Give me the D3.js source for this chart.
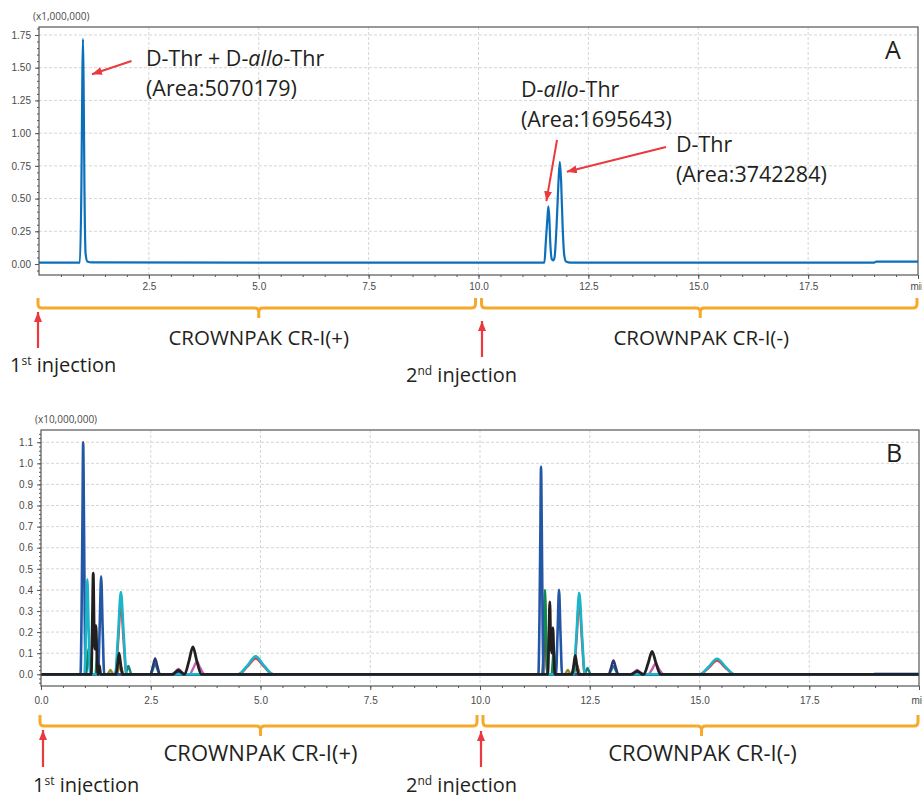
<!DOCTYPE html>
<html lang="en">
<head>
<meta charset="utf-8">
<title>CROWNPAK chromatograms</title>
<script src="https://d3js.org/d3.v7.min.js"></script>
<style>
    body, html { margin: 0; padding: 0; background: #fff; overflow: hidden; }
    svg { font-family: "Open Sans", "Noto Sans", sans-serif; }
    .tick text { fill: #4a4a4a; font-size: 10px; }
    .axis .domain { stroke: #555; }
    .axis line { stroke: #555; }
    .grid line { stroke: #d6d6d6; stroke-dasharray: 3,2; }
    .note { fill: #231f20; }
</style>
</head>
<body>
<svg width="922" height="795"></svg>
<script>
// ---- data (time in min, signal in axis units) ----
var xMajor = [0, 2.5, 5, 7.5, 10, 12.5, 15, 17.5, 20];
var yMajorA = [0, 0.25, 0.5, 0.75, 1.0, 1.25, 1.5, 1.75];
var yMajorB = [0, 0.1, 0.2, 0.3, 0.4, 0.5, 0.6, 0.7, 0.8, 0.9, 1.0, 1.1];

// panel A : single SIM trace
var traceA = [[0,0.01],[0.5,0.01],[0.93,0.011],[0.965,0.6],[0.985,1.38],[1.0,1.72],[1.015,1.38],[1.035,0.55],[1.06,0.08],[1.1,0.02],[1.2,0.012],
    [5,0.01],[10,0.01],[11.5,0.011],[11.53,0.16],[11.57,0.36],[11.59,0.44],[11.61,0.36],[11.635,0.15],[11.67,0.035],[11.7,0.028],
    [11.73,0.05],[11.775,0.28],[11.82,0.63],[11.85,0.78],[11.88,0.63],[11.915,0.28],[11.95,0.07],[11.99,0.02],[12.1,0.011],
    [16,0.01],[19.0,0.01],[19.05,0.018],[20,0.018]];

// panel B : overlaid traces
var bRed = [[0,0],[1.695,0],[1.76,0.163],[1.82,0.34],[1.88,0.163],[1.945,0],[4.5,0],[4.7,0.036],[4.89,0.075],[5.08,0.036],[5.28,0],
    [11.425,0],[11.454,0.173],[11.48,0.36],[11.506,0.173],[11.535,0],[12.135,0],[12.2,0.168],[12.26,0.35],[12.32,0.168],[12.385,0],
    [15.01,0],[15.21,0.031],[15.4,0.065],[15.59,0.031],[15.79,0],[20,0]];
var bDarkRed = [[0,0],[1.68,0],[1.73,0.029],[1.78,0.06],[1.83,0.029],[1.88,0],[11.425,0],[11.454,0.144],[11.48,0.3],[11.506,0.144],[11.535,0],
    [12.08,0],[12.13,0.029],[12.18,0.06],[12.23,0.029],[12.28,0],[20,0]];
var bOlive = [[0,0],[1.51,0],[1.545,0.01],[1.58,0.02],[1.615,0.01],[1.65,0],[1.73,0],[1.765,0.022],[1.8,0.045],[1.835,0.022],[1.87,0],
    [11.93,0],[11.965,0.01],[12,0.02],[12.035,0.01],[12.07,0],[12.13,0],[12.165,0.019],[12.2,0.04],[12.235,0.019],[12.27,0],[20,0]];
var bTeal = [[0,0],[1.92,0],[1.955,0.019],[1.99,0.04],[2.025,0.019],[2.06,0],[2.5,0],[2.55,0.024],[2.6,0.05],[2.65,0.024],[2.7,0],
    [12.38,0],[12.415,0.014],[12.45,0.03],[12.485,0.014],[12.52,0],[12.94,0],[12.99,0.019],[13.04,0.04],[13.09,0.019],[13.14,0],[20,0]];
var bPink = [[0,0],[1.265,0],[1.29,0.024],[1.31,0.05],[1.33,0.024],[1.355,0],[2.98,0],[3.06,0.012],[3.13,0.025],[3.2,0.012],[3.28,0],
    [3.38,0],[3.47,0.029],[3.55,0.06],[3.63,0.029],[3.73,0],[11.655,0],[11.68,0.019],[11.7,0.04],[11.72,0.019],[11.745,0],
    [13.43,0],[13.51,0.01],[13.58,0.02],[13.65,0.01],[13.73,0],[13.83,0],[13.92,0.024],[14,0.05],[14.08,0.024],[14.18,0],[20,0]];
var bGreen = [[0,0],[1.03,0],[1.056,0.058],[1.08,0.12],[1.104,0.058],[1.13,0],[1.24,0],[1.266,0.067],[1.29,0.14],[1.314,0.067],[1.34,0],
    [11.425,0],[11.454,0.192],[11.48,0.4],[11.506,0.192],[11.535,0],[11.63,0],[11.656,0.058],[11.68,0.12],[11.704,0.058],[11.73,0],[20,0]];
var bNavy = [[0,0],[2.49,0],[2.546,0.036],[2.6,0.075],[2.654,0.036],[2.71,0],[12.93,0],[12.986,0.032],[13.04,0.066],[13.094,0.032],[13.15,0],[20,0]];
var bBlue = [[0,0],[0.9,0],[0.925,0.3],[0.945,0.75],[0.96,1.1],[0.978,0.75],[0.995,0.3],[1.02,0],[1.3,0],[1.336,0.22],[1.37,0.465],[1.404,0.22],[1.44,0],
    [2.98,0],[3.06,0.006],[3.13,0.012],[3.2,0.006],[3.28,0],[11.33,0],[11.355,0.27],[11.375,0.67],[11.39,0.983],[11.408,0.67],[11.425,0.27],[11.45,0],
    [11.73,0],[11.766,0.19],[11.8,0.4],[11.834,0.19],[11.87,0],[13.43,0],[13.51,0.005],[13.58,0.01],[13.65,0.005],[13.73,0],[20,0]];
var bCyan = [[0,0],[0.99,0],[1.025,0.216],[1.055,0.45],[1.085,0.216],[1.12,0],[1.69,0],[1.756,0.187],[1.82,0.39],[1.884,0.187],[1.95,0],
    [4.49,0],[4.7,0.041],[4.89,0.085],[5.08,0.041],[5.29,0],[12.13,0],[12.196,0.185],[12.26,0.386],[12.324,0.185],[12.39,0],
    [15,0],[15.21,0.036],[15.4,0.074],[15.59,0.036],[15.8,0],[20,0]];
var bBlack = [[0,0],[1.145,0],[1.168,0.23],[1.19,0.48],[1.212,0.2],[1.228,0.12],[1.25,0.23],[1.272,0.11],[1.295,0],[1.3,0],[1.315,0.02],
    [1.33,0.04],[1.345,0.02],[1.36,0],[1.71,0],[1.745,0.048],[1.78,0.1],[1.815,0.048],[1.85,0],[3.0,0],[3.07,0.01],[3.13,0.02],[3.19,0.01],
    [3.26,0],[3.27,0],[3.37,0.062],[3.46,0.13],[3.55,0.062],[3.65,0],[11.545,0],[11.568,0.165],[11.59,0.343],[11.612,0.15],[11.635,0.1],
    [11.66,0.22],[11.682,0.1],[11.705,0],[12.1,0],[12.135,0.043],[12.17,0.09],[12.205,0.043],[12.24,0],[13.45,0],[13.52,0.008],[13.58,0.015],
    [13.64,0.008],[13.71,0],[13.73,0],[13.83,0.052],[13.92,0.109],[14.01,0.052],[14.11,0],[20,0]];
var bLight = [[0,0],[18.95,0],[19.0,0.006],[20,0.006]];

var seriesB = [
    { pts: bLight, color: "#a9c9e8", w: 2 },
    { pts: bRed, color: "#e8383d", w: 2.4 },
    { pts: bDarkRed, color: "#9a1b20", w: 2.4 },
    { pts: bOlive, color: "#8e8b30", w: 2.4 },
    { pts: bTeal, color: "#17807f", w: 2.4 },
    { pts: bPink, color: "#c65bb4", w: 2.4 },
    { pts: bGreen, color: "#0d8b50", w: 2.4 },
    { pts: bNavy, color: "#2d3478", w: 2.4 },
    { pts: bBlue, color: "#2456a6", w: 2.6 },
    { pts: bCyan, color: "#1bb5c9", w: 2.6 },
    { pts: bBlack, color: "#231f20", w: 2.8 }
];

var red = "#ea3a3f", orange = "#f6a92b";

var svg = d3.select("svg");
var defs = svg.append("defs");
defs.append("marker")
    .attr("id", "head").attr("viewBox", "0 0 10 8")
    .attr("refX", 10).attr("refY", 4)
    .attr("markerWidth", 10).attr("markerHeight", 8)
    .attr("markerUnits", "userSpaceOnUse").attr("orient", "auto")
    .append("path").attr("d", "M0,0 L10,4 L0,8 Z").attr("fill", red);

function drawPanel(p) {
    var x = d3.scaleLinear().domain([0, 20]).range([p.left, p.right]);
    var y = d3.scaleLinear().domain(p.yDomain).range([p.bottom, p.top]);
    var g = svg.append("g");

    // grid
    g.append("g").attr("class", "grid")
        .selectAll("line.v").data(xMajor.slice(1, -1)).enter().append("line")
        .attr("x1", x).attr("x2", x).attr("y1", p.top).attr("y2", p.bottom);
    g.append("g").attr("class", "grid")
        .selectAll("line.h").data(p.yMajor.slice(1)).enter().append("line")
        .attr("x1", p.left).attr("x2", p.right).attr("y1", y).attr("y2", y);

    // traces
    defs.append("clipPath").attr("id", "clip" + p.id)
        .append("rect").attr("x", p.left).attr("y", p.top)
        .attr("width", p.right - p.left).attr("height", p.bottom - p.top);
    var line = d3.line().x(function (d) { return x(d[0]); }).y(function (d) { return y(d[1]); })
        .curve(d3.curveMonotoneX);
    g.append("g").attr("clip-path", "url(#clip" + p.id + ")")
        .selectAll("path").data(p.series).enter().append("path")
        .attr("d", function (d) { return line(d.pts); })
        .attr("fill", "none")
        .attr("stroke", function (d) { return d.color; })
        .attr("stroke-width", function (d) { return d.w; })
        .attr("stroke-linejoin", "round");

    // frame
    g.append("rect").attr("x", p.left).attr("y", p.top)
        .attr("width", p.right - p.left).attr("height", p.bottom - p.top)
        .attr("fill", "none").attr("stroke", "#555").attr("stroke-width", 1.2);

    // y axis
    var yMinor = d3.range(Math.ceil(p.yDomain[0] / p.yMinorStep), Math.floor(p.yDomain[1] / p.yMinorStep) + 1)
        .map(function (i) { return i * p.yMinorStep; });
    g.append("g").attr("class", "axis").attr("transform", "translate(" + p.left + ",0)")
        .call(d3.axisLeft(y).tickValues(yMinor).tickSize(2).tickFormat(""))
        .call(function (s) { s.select(".domain").remove(); });
    g.append("g").attr("class", "axis").attr("transform", "translate(" + p.left + ",0)")
        .call(d3.axisLeft(y).tickValues(p.yMajor).tickSize(4).tickPadding(4).tickFormat(d3.format(p.yFmt)))
        .call(function (s) { s.select(".domain").remove(); });

    // x axis
    g.append("g").attr("class", "axis").attr("transform", "translate(0," + p.bottom + ")")
        .call(d3.axisBottom(x).tickValues(d3.range(1, 40).map(function (i) { return i * 0.5; })).tickSize(2).tickFormat(""))
        .call(function (s) { s.select(".domain").remove(); });
    g.append("g").attr("class", "axis").attr("transform", "translate(0," + p.bottom + ")")
        .call(d3.axisBottom(x).tickValues(p.xLabels).tickSize(4).tickPadding(p.xPad)
            .tickFormat(function (d) { return d === 20 ? "min" : d3.format(".1f")(d); }))
        .call(function (s) { s.select(".domain").remove(); });

    // scale factor label and panel letter
    g.append("text").attr("x", p.left - 6).attr("y", p.top - 7)
        .attr("font-size", 10).attr("fill", "#4a4a4a").text(p.factor);
    g.append("text").attr("x", p.right - 33).attr("y", p.top + 32)
        .attr("font-size", 25).attr("fill", "#231f20").text(p.letter);

    // column brackets
    function bracket(x0, x1, xm) {
        var t = p.brTop, l = p.brLine, n = p.brLine + 10, r = 4;
        return "M" + x0 + "," + t + " L" + x0 + "," + (l - r) + " Q" + x0 + "," + l + " " + (x0 + r) + "," + l +
            " L" + (xm - r) + "," + l + " Q" + xm + "," + l + " " + xm + "," + (l + r) + " L" + xm + "," + n +
            " M" + xm + "," + (l + r) + " Q" + xm + "," + l + " " + (xm + r) + "," + l +
            " L" + (x1 - r) + "," + l + " Q" + x1 + "," + l + " " + x1 + "," + (l - r) + " L" + x1 + "," + t;
    }
    g.append("path").attr("d", bracket(x(0) - 1, x(10) - 3, x(5)))
        .attr("fill", "none").attr("stroke", orange).attr("stroke-width", 3);
    g.append("path").attr("d", bracket(x(10) + 3, x(20) - 1, x(15) + 2))
        .attr("fill", "none").attr("stroke", orange).attr("stroke-width", 3);

    g.append("text").attr("class", "note").attr("x", x(5)).attr("y", p.colY)
        .attr("text-anchor", "middle").attr("font-size", p.colSize).text("CROWNPAK CR-I(+)");
    g.append("text").attr("class", "note").attr("x", x(15) + 3).attr("y", p.colY)
        .attr("text-anchor", "middle").attr("font-size", p.colSize).text("CROWNPAK CR-I(-)");

    // injection arrows
    p.inj.forEach(function (d) {
        g.append("line").attr("x1", d.ax).attr("x2", d.ax).attr("y1", d.tail).attr("y2", d.tip)
            .attr("stroke", red).attr("stroke-width", 2.2).attr("marker-end", "url(#head)");
        var t = g.append("text").attr("class", "note").attr("x", d.tx).attr("y", d.ty).attr("font-size", 20);
        t.append("tspan").text(d.num);
        t.append("tspan").attr("dy", -7).attr("font-size", 12).text(d.sup);
        t.append("tspan").attr("dy", 7).text(" injection");
    });

    return { x: x, y: y, g: g };
}

var A = drawPanel({
    id: "A", left: 39, right: 918, top: 27, bottom: 275,
    yDomain: [-0.084, 1.811], yMajor: yMajorA, yMinorStep: 0.05, yFmt: ".2f",
    xLabels: xMajor.slice(1), xPad: 4, factor: "(x1,000,000)", letter: "A",
    series: [{ pts: traceA, color: "#0b6fba", w: 2.2 }],
    brTop: 298, brLine: 308, colY: 345, colSize: 20.5,
    inj: [{ ax: 38, tail: 348, tip: 312, tx: 10, ty: 372, num: "1", sup: "st" },
          { ax: 482, tail: 357, tip: 321, tx: 406, ty: 382, num: "2", sup: "nd" }]
});

var B = drawPanel({
    id: "B", left: 41, right: 919, top: 430, bottom: 686,
    yDomain: [-0.0555, 1.158], yMajor: yMajorB, yMinorStep: 0.02, yFmt: ".1f",
    xLabels: xMajor, xPad: 7, factor: "(x10,000,000)", letter: "B",
    series: seriesB,
    brTop: 715, brLine: 726, colY: 761, colSize: 22,
    inj: [{ ax: 43, tail: 767, tip: 730, tx: 33, ty: 792, num: "1", sup: "st" },
          { ax: 481, tail: 767, tip: 731, tx: 406, ty: 792, num: "2", sup: "nd" }]
});

// peak annotations on panel A
function note(x, y, lines) {
    lines.forEach(function (s, i) {
        var t = A.g.append("text").attr("class", "note").attr("x", x).attr("y", y + i * 30)
            .attr("font-size", 21.5);
        s.forEach(function (part) {
            t.append("tspan").attr("font-style", part.i ? "italic" : null).text(part.t);
        });
    });
}
function arrow(x1, y1, x2, y2) {
    A.g.append("line").attr("x1", x1).attr("y1", y1).attr("x2", x2).attr("y2", y2)
        .attr("stroke", red).attr("stroke-width", 2).attr("marker-end", "url(#head)");
}

note(146, 66, [[{ t: "D-Thr + D-" }, { t: "allo", i: 1 }, { t: "-Thr" }], [{ t: "(Area:5070179)" }]]);
note(521, 97, [[{ t: "D-" }, { t: "allo", i: 1 }, { t: "-Thr" }], [{ t: "(Area:1695643)" }]]);
note(676, 152, [[{ t: "D-Thr" }], [{ t: "(Area:3742284)" }]]);

arrow(131.5, 61, A.x(1.0) + 9, A.y(1.45));
arrow(557, 140, A.x(11.59) - 2, A.y(0.48));
arrow(666, 147, A.x(11.85) + 7, A.y(0.705));
</script>
</body>
</html>
